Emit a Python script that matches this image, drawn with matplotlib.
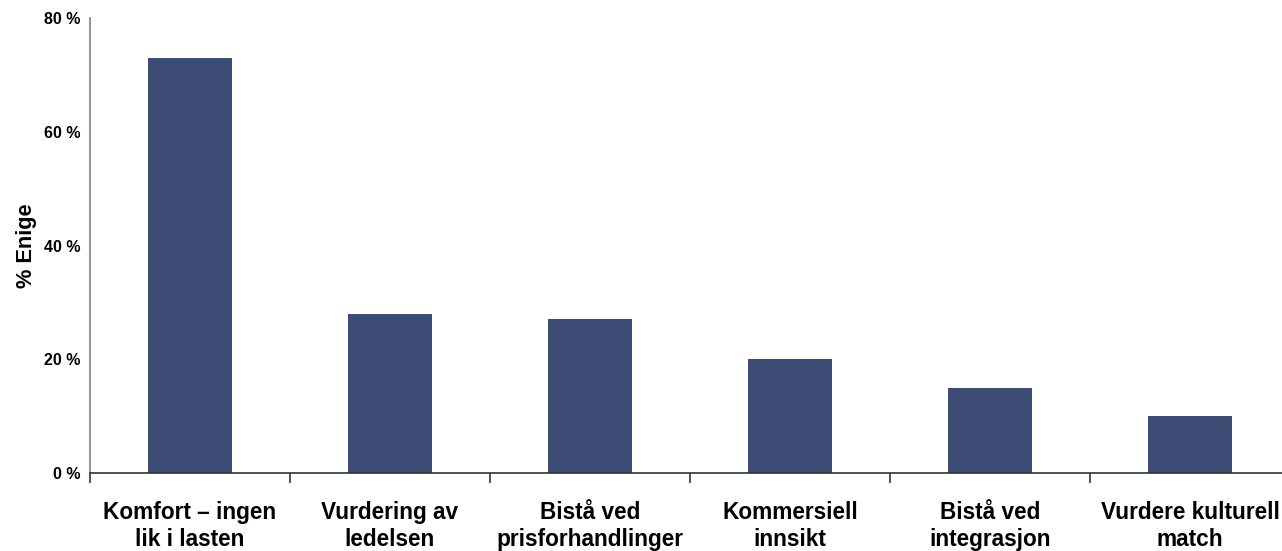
import matplotlib
matplotlib.use("Agg")
import matplotlib.pyplot as plt
from matplotlib.ticker import FixedLocator, FuncFormatter

categories = ["Komfort – ingen\nlik i lasten", "Vurdering av\nledelsen", "Bistå ved\nprisforhandlinger",
              "Kommersiell\ninnsikt", "Bistå ved\nintegrasjon", "Vurdere kulturell\nmatch"]
values = [73, 28, 27, 20, 15, 10]
yticks = [0, 20, 40, 60, 80]

plt.rcParams['font.family'] = ['Liberation Sans', 'DejaVu Sans']

W, H = 1282, 551
fig = plt.figure(figsize=(W/100, H/100), dpi=100)
left = 90/W
bottom = 1 - 473/H
top = 1 - 18/H
ax = fig.add_axes([left, bottom, 1200/W, top - bottom])

x = list(range(len(categories)))
ax.bar(x, values, width=0.42, color="#3d4c75", zorder=2)

ax.set_xlim(-0.5, 5.5)
ax.set_ylim(0, 80)
ax.set_yticks(yticks)
ax.yaxis.set_major_formatter(FuncFormatter(lambda v, p: f"{int(v)} %"))
ax.tick_params(axis='y', length=0, pad=7, labelsize=11.5)
for lab in ax.get_yticklabels():
    lab.set_fontweight('bold')

ax.set_xticks(x)
ax.set_xticklabels(categories, fontsize=16.3, fontweight='bold', linespacing=1.25)
ax.tick_params(axis='x', which='major', length=0, pad=20)
ax.xaxis.set_minor_locator(FixedLocator([i - 0.5 for i in range(len(categories) + 1)]))
ax.tick_params(axis='x', which='minor', length=7, width=1.2, color="#333333", direction='out')

ax.spines['top'].set_visible(False)
ax.spines['right'].set_visible(False)
ax.spines['left'].set_color("#808080")
ax.spines['left'].set_linewidth(1.2)
ax.spines['bottom'].set_color("#333333")
ax.spines['bottom'].set_linewidth(1.2)

ax.set_ylabel("% Enige", fontsize=15.7, fontweight='bold', labelpad=5)

fig.savefig("out.png", dpi=100)
